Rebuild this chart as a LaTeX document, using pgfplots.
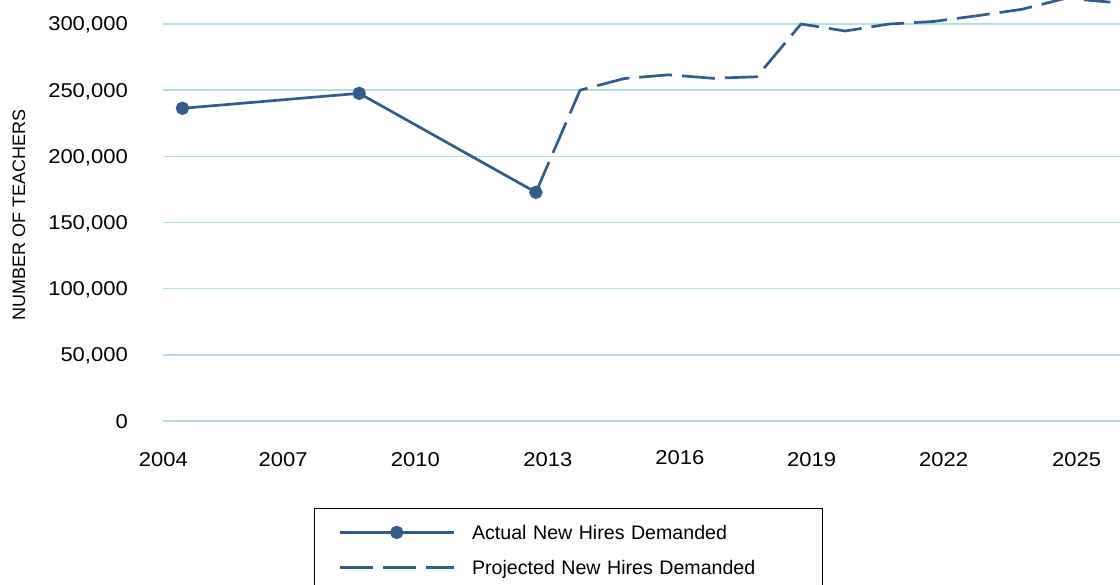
\documentclass[border=0pt]{standalone}
\usepackage{fontspec}
\setmainfont{Liberation Sans}
\newfontfamily\tickfont{Liberation Sans}[FakeStretch=1.1]
\usepackage{pgfplots}
\pgfplotsset{compat=1.18}
\definecolor{lineblue}{RGB}{52,92,138}
\definecolor{gridblue}{RGB}{180,220,230}
\pgfplotsset{
  actualimg/.style={legend image code/.code={\draw[##1, mark repeat=2, mark phase=2] plot coordinates {(0bp,0bp) (57bp,0bp) (114bp,0bp)};}},
  projimg/.style={legend image code/.code={\draw[##1] (0bp,0bp) -- (114bp,0bp);}},
}
\begin{document}
\begin{tikzpicture}
\begin{axis}[
  scale only axis, width=957bp, height=421bp,
  xmin=2004.56, xmax=2026.22, ymin=0, ymax=318136,
  axis line style={draw=none},
  major tick length=0pt,
  ymajorgrids, grid style={gridblue, line width=1.5bp},
  ytick={0,50000,100000,150000,200000,250000,300000},
  yticklabels={0,{50,000},{100,000},{150,000},{200,000},{250,000},{300,000}},
  xtick={2004.57,2007.28,2010.27,2013.27,2016.26,2019.24,2022.23,2025.24},
  xticklabels={2004,2007,2010,2013,\raisebox{2bp}{2016},2019,2022,2025},
  ticklabel style={font=\tickfont\fontsize{20bp}{24bp}\selectfont, inner sep=0pt},
  yticklabel style={anchor=base east, xshift=-35bp, yshift=-7bp},
  xticklabel style={anchor=base, yshift=-45bp},
  ylabel={NUMBER OF TEACHERS},
  ylabel style={at={(axis description cs:-0.1505,0.489)}, anchor=center, inner sep=0pt, font=\fontsize{18bp}{22bp}\selectfont},
  legend cell align=left,
  legend style={at={(axis description cs:0.1578,-0.2067)}, anchor=north west, draw=black, line width=0.8bp,
    inner xsep=24bp, inner ysep=15bp, column sep=17bp, row sep=17bp,
    font=\fontsize{19.6bp}{24bp}\selectfont,
    nodes={inner sep=0pt, text height=16bp, text depth=2bp, text width=326bp, align=left}},
]
\addplot[color=lineblue, line width=2.7bp, mark=*, mark size=5.3bp, mark options={solid, fill=lineblue}, actualimg]
  coordinates {(2005,236300) (2009,247600) (2013,172800)};
\addlegendentry{Actual New Hires Demanded}
\addplot[color=lineblue, line width=2.7bp, dash pattern=on 33bp off 10bp, projimg]
  coordinates {(2013,172800) (2014,250000) (2015,258800) (2016,261600) (2017,259000) (2018,260100)
    (2019,300000) (2020,294700) (2021,300000) (2022,301900) (2023,306300) (2024,311100)
    (2025,319500) (2026,316500)};
\addlegendentry{Projected New Hires Demanded}
\end{axis}
\pgfresetboundingbox
\useasboundingbox (-163bp,-164bp) rectangle (957bp,421bp);
\end{tikzpicture}
\end{document}
